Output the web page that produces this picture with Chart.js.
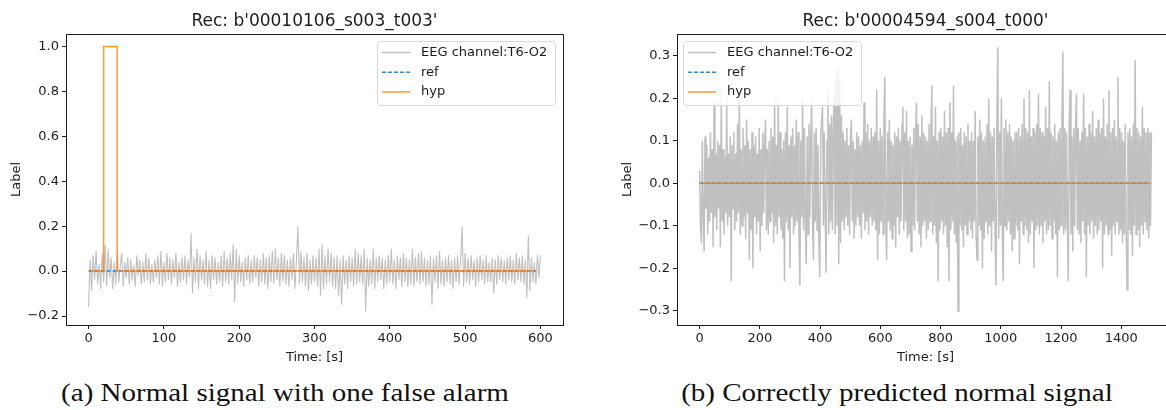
<!DOCTYPE html>
<html>
<head>
<meta charset="utf-8">
<script src="https://cdn.jsdelivr.net/npm/chart.js@4.4.1/dist/chart.umd.min.js"></script>
<style>
  html, body { margin: 0; padding: 0; background: #fff; overflow: hidden; width: 1166px; height: 410px; }
  canvas { position: absolute; top: 0; }
  #chartA { left: 0; }
  #chartB { left: 583px; }
  .cap {
    position: absolute; top: 380px; text-align: center; white-space: nowrap;
    font-family: 'Liberation Serif', serif; font-size: 25px; line-height: 25px; color: #111;
    transform: scaleX(1.16);
  }
</style>
</head>
<body>
<canvas id="chartA" width="583" height="375"></canvas>
<canvas id="chartB" width="600" height="375"></canvas>
<div class="cap" style="left:0; width:570px;">(a) Normal signal with one false alarm</div>
<div class="cap" style="left:597px; width:600px;">(b) Correctly predicted normal signal</div>
<script>
// recording (a): b'00010106_s003_t003', one sample every 2 s
const titleA = "Rec: b'00010106_s003_t003'";
const stepA = 2;
const eegA = [
  -0.16, 0.05, -0.09, 0.07, -0.04, 0.09, -0.06, 0.03, -0.08, 0.08, -0.05, 0.12, -0.07, 0.10, -0.03, 0.06, -0.08, 0.04, -0.06, 0.08,
  -0.05, 0.02, 0.08, -0.07, 0.04, -0.03, 0.06, -0.06, 0.05, -0.04, 0.03, -0.07, 0.07, -0.02, 0.05, -0.06, 0.04, -0.05, 0.08, -0.04,
  0.06, -0.06, 0.03, -0.05, 0.05, -0.03, 0.07, -0.06, 0.09, -0.07, 0.04, -0.05, 0.08, -0.04, 0.06, -0.06, 0.05, -0.03, 0.08, -0.07,
  0.04, -0.05, 0.06, -0.04, 0.07, -0.06, 0.05, -0.03, 0.17, -0.10, 0.06, -0.05, 0.10, -0.08, 0.07, -0.04, 0.05, -0.06, 0.09, -0.07,
  0.05, -0.08, 0.07, -0.04, 0.06, -0.06, 0.04, -0.05, 0.07, -0.07, 0.09, -0.05, 0.06, -0.06, 0.08, -0.04, 0.12, -0.14, 0.10, -0.06,
  0.07, -0.05, 0.04, -0.07, 0.06, -0.04, 0.07, -0.06, 0.05, -0.05, 0.07, -0.03, 0.06, -0.07, 0.05, -0.05, 0.08, -0.06, 0.06, -0.08,
  0.07, -0.05, 0.09, -0.06, 0.10, -0.04, 0.06, -0.07, 0.08, -0.05, 0.07, -0.06, 0.05, -0.07, 0.06, -0.04, 0.08, -0.08, 0.05, 0.20,
  -0.06, 0.09, -0.05, 0.06, -0.07, 0.08, -0.09, 0.05, -0.06, 0.07, -0.05, 0.06, -0.07, 0.10, -0.11, 0.12, -0.08, 0.07, -0.06, 0.10,
  -0.05, 0.08, -0.07, 0.06, -0.08, 0.07, -0.11, 0.05, -0.15, 0.07, -0.06, 0.05, -0.08, 0.07, -0.05, 0.06, -0.07, 0.10, -0.06, 0.08,
  -0.05, 0.07, -0.06, 0.10, -0.18, 0.06, -0.07, 0.05, -0.06, 0.10, -0.08, 0.06, -0.05, 0.07, -0.04, 0.06, -0.08, 0.05, -0.06, 0.07,
  -0.05, 0.10, -0.06, 0.05, -0.08, 0.07, -0.04, 0.06, -0.07, 0.08, -0.05, 0.06, -0.07, 0.05, -0.06, 0.10, -0.07, 0.06, -0.05, 0.08,
  -0.06, 0.09, -0.05, 0.06, -0.07, 0.05, -0.06, 0.07, -0.15, 0.06, -0.05, 0.07, -0.08, 0.09, -0.06, 0.05, -0.07, 0.06, -0.05, 0.07,
  -0.06, 0.05, -0.08, 0.06, -0.05, 0.07, -0.06, 0.05, 0.20, -0.07, 0.08, -0.05, 0.06, -0.06, 0.07, -0.04, 0.05, -0.07, 0.06, -0.05,
  0.07, -0.04, 0.05, -0.06, 0.07, -0.05, 0.04, -0.05, 0.06, -0.10, 0.05, -0.06, 0.07, -0.04, 0.06, -0.05, 0.05, -0.06, 0.06, -0.04,
  0.07, -0.05, 0.05, -0.06, 0.08, -0.04, 0.06, -0.05, 0.07, -0.06, 0.05, -0.12, 0.16, -0.09, 0.06, -0.05, 0.04, -0.06, 0.07, -0.03,
  0.07
];
const refTimesA = [0, 594];
const refA = [0, 0];
const hypTimesA = [0, 20, 20, 38, 38, 594];
const hypA = [0, 0, 1, 1, 0, 0];
const xTicksA = [0, 100, 200, 300, 400, 500, 600];
const yTicksA = [-0.2, 0.0, 0.2, 0.4, 0.6, 0.8, 1.0];

// recording (b): b'00004594_s004_t000', one sample every 3 s
const titleB = "Rec: b'00004594_s004_t000'";
const stepB = 3;
const eegB = [
  0.03, -0.10, -0.14, 0.10, -0.08, -0.16, 0.11, -0.06, 0.09, -0.12, 0.06, -0.09, 0.12, -0.07, 0.08, -0.15, 0.19, -0.08, 0.07, -0.11, 0.10, -0.06, 0.09, -0.15, 0.22,
  -0.09, 0.08, -0.12, 0.06, -0.07, 0.20, -0.10, 0.07, -0.08, 0.11, -0.23, 0.09, -0.06, 0.12, -0.11, 0.07, -0.09, 0.14, -0.07, 0.20, -0.12, 0.08, -0.10, 0.13, -0.08,
  0.09, -0.13, 0.15, -0.07, 0.10, -0.18, 0.08, -0.11, 0.12, -0.20, 0.09, -0.08, 0.11, -0.12, 0.07, -0.09, 0.13, -0.16, 0.08, -0.10, 0.12, -0.07, 0.09, 0.15, -0.11,
  0.08, -0.12, 0.10, -0.09, 0.13, -0.07, 0.11, -0.14, 0.20, -0.10, 0.09, -0.12, 0.19, -0.08, 0.12, -0.11, 0.08, -0.13, 0.10, -0.23, 0.12, -0.09, 0.18, -0.11, 0.09,
  -0.20, 0.11, -0.08, 0.13, -0.12, 0.09, -0.10, 0.15, -0.09, 0.12, -0.13, -0.24, 0.10, -0.08, 0.20, -0.11, 0.13, -0.09, -0.19, 0.11, -0.12, 0.14, -0.08, 0.10, 0.20,
  -0.10, -0.18, 0.12, -0.09, 0.13, -0.11, 0.09, -0.14, -0.22, 0.11, 0.14, 0.18, -0.10, 0.12, -0.08, -0.21, 0.10, 0.22, -0.12, 0.14, -0.09, 0.16, -0.11, 0.13, 0.21,
  -0.12, 0.25, -0.10, 0.27, -0.19, 0.24, -0.14, 0.16, -0.09, 0.12, -0.11, 0.10, -0.08, 0.13, -0.10, 0.09, -0.12, 0.11, 0.15, -0.09, 0.10, -0.13, 0.08, -0.10, 0.12,
  -0.08, 0.11, -0.10, 0.09, -0.13, 0.10, -0.07, 0.19, -0.11, 0.12, -0.09, 0.14, -0.12, 0.10, -0.08, 0.13, -0.10, 0.11, -0.09, 0.12, -0.11, 0.22, -0.18, 0.10, -0.12,
  0.13, -0.09, 0.11, -0.12, 0.16, 0.25, -0.10, -0.18, 0.12, -0.09, 0.15, -0.11, 0.10, -0.13, 0.09, -0.10, 0.12, -0.15, 0.11, -0.08, 0.13, -0.12, 0.10, -0.09, 0.14,
  0.18, -0.11, 0.12, -0.09, 0.17, -0.13, 0.10, -0.12, 0.11, -0.16, 0.09, -0.10, 0.13, -0.11, 0.12, 0.19, -0.09, 0.14, -0.12, 0.11, -0.15, 0.16, -0.10, 0.12, -0.09,
  0.11, -0.13, 0.10, -0.11, 0.14, -0.09, 0.12, 0.23, -0.12, 0.11, -0.10, 0.18, -0.14, 0.10, -0.23, 0.12, -0.11, 0.13, -0.09, 0.11, -0.12, 0.17, -0.10, 0.12, -0.15,
  0.13, -0.23, 0.19, -0.11, 0.12, -0.09, 0.23, -0.12, 0.10, -0.14, 0.11, -0.30, 0.12, -0.10, 0.13, -0.11, 0.09, -0.15, 0.12, -0.10, 0.11, -0.12, 0.14, -0.09, 0.10,
  -0.11, 0.12, -0.13, 0.10, -0.09, 0.17, -0.12, -0.18, 0.11, -0.10, 0.15, -0.11, 0.12, -0.20, 0.10, -0.13, 0.11, -0.09, 0.14, -0.12, 0.20, -0.10, 0.12, -0.16, 0.11,
  -0.09, 0.13, -0.12, -0.24, 0.14, 0.32, -0.13, 0.12, -0.10, 0.20, -0.12, -0.23, 0.13, -0.10, 0.15, -0.11, 0.12, -0.09, 0.14, -0.12, 0.11, -0.16, 0.10, -0.13, 0.12,
  -0.10, 0.12, -0.11, 0.13, -0.19, 0.11, -0.09, 0.14, -0.12, 0.20, -0.10, 0.13, -0.11, 0.12, -0.14, 0.22, -0.12, 0.11, -0.09, 0.13, -0.20, 0.12, -0.11, 0.14, -0.10,
  0.21, -0.12, 0.13, -0.10, 0.12, -0.14, 0.11, -0.09, 0.18, -0.12, 0.13, -0.11, 0.24, -0.10, 0.12, -0.13, 0.11, -0.09, 0.14, -0.12, 0.10, -0.22, 0.12, -0.11, 0.13,
  -0.10, 0.15, 0.31, -0.12, 0.13, -0.11, 0.12, -0.09, -0.23, 0.14, 0.22, -0.12, 0.11, -0.16, 0.13, -0.10, 0.12, 0.21, -0.11, 0.13, -0.12, 0.10, -0.14, 0.12, -0.09,
  0.21, -0.12, 0.13, -0.22, 0.11, -0.10, 0.14, -0.12, 0.12, -0.09, 0.17, -0.13, 0.11, -0.10, 0.13, -0.12, 0.15, -0.11, 0.12, -0.09, 0.13, -0.20, 0.20, -0.12, 0.11,
  -0.10, 0.14, -0.12, 0.22, -0.11, 0.12, -0.17, 0.13, -0.10, 0.15, -0.12, 0.11, -0.09, 0.25, -0.12, 0.13, -0.11, 0.12, -0.14, 0.10, -0.12, 0.14, -0.10, -0.25, 0.12,
  -0.11, 0.13, -0.12, 0.11, -0.17, 0.14, -0.10, 0.29, -0.12, 0.13, -0.11, 0.12, -0.15, 0.11, -0.10, 0.18, -0.12, 0.13, -0.09, 0.12, -0.11, 0.13, -0.13, 0.12, -0.10,
  0.12
];
const refTimesB = [0, 1496];
const refB = [0, 0];
const hypTimesB = [0, 1496];
const hypB = [0, 0];
const xTicksB = [0, 200, 400, 600, 800, 1000, 1200, 1400];
const yTicksB = [-0.3, -0.2, -0.1, 0.0, 0.1, 0.2, 0.3];

const GREY = '#c0c0c0';
const BLUE = 'rgba(31,119,180,0.85)';
const ORANGE = 'rgba(255,127,14,0.8)';
const INK = '#1c1c1c';
const FONT = "'DejaVu Sans', sans-serif";
const TXT = 13;

Chart.defaults.font.family = FONT;
Chart.defaults.color = INK;

const sampled = (vals, step) => vals.map((v, i) => ({ x: i * step, y: v }));
const paired = (xs, ys) => xs.map((x, i) => ({ x, y: ys[i] }));
const fmt = (v) => v.toFixed(1).replace('-', '\u2212');

// matplotlib-style frame, title and in-plot legend
const mplDecor = {
  id: 'mplDecor',
  afterDraw(chart, args, opts) {
    const { ctx, chartArea: a } = chart;
    ctx.save();
    ctx.strokeStyle = INK;
    ctx.lineWidth = 1;
    ctx.beginPath();
    ctx.moveTo(Math.round(a.left) + 0.5, Math.round(a.top) + 0.5);
    ctx.lineTo(Math.round(a.right) + 0.5, Math.round(a.top) + 0.5);
    ctx.lineTo(Math.round(a.right) + 0.5, Math.round(a.bottom) + 0.5);
    ctx.stroke();

    ctx.fillStyle = INK;
    ctx.font = '17px ' + FONT;
    ctx.textAlign = 'center';
    ctx.textBaseline = 'middle';
    ctx.fillText(opts.title, (a.left + a.right) / 2, 22);

    // legend box
    ctx.font = TXT + 'px ' + FONT;
    const items = chart.data.datasets;
    const w = 178, h = 64;
    const x0 = opts.legend === 'right' ? a.right - 8 - w : a.left + 6;
    const y0 = a.top + 7;
    ctx.beginPath();
    ctx.roundRect(x0 + 0.5, y0 + 0.5, w, h, 3);
    ctx.fillStyle = 'rgba(255,255,255,0.8)';
    ctx.fill();
    ctx.strokeStyle = '#d9d9d9';
    ctx.stroke();
    items.forEach((ds, i) => {
      const y = y0 + 11.5 + i * 19.7;
      ctx.beginPath();
      ctx.setLineDash(ds.borderDash || []);
      ctx.strokeStyle = ds.borderColor;
      ctx.lineWidth = 1.5;
      ctx.moveTo(x0 + 5, y);
      ctx.lineTo(x0 + 33, y);
      ctx.stroke();
      ctx.setLineDash([]);
      ctx.fillStyle = INK;
      ctx.textAlign = 'left';
      ctx.fillText(ds.label, x0 + 44, y);
    });
    ctx.restore();
  }
};

function axes(xr, yr, xTicks, yTicks, yWidth, yTitlePad) {
  const tickFont = { family: FONT, size: TXT };
  const grid = { drawOnChartArea: false, drawTicks: true, tickLength: 4, color: INK };
  const border = { display: true, color: INK, width: 1 };
  return {
    x: {
      type: 'linear', min: xr[0], max: xr[1], grid, border,
      afterBuildTicks: (s) => { s.ticks = xTicks.map((v) => ({ value: v })); },
      afterFit: (s) => { s.height = 50; },
      ticks: { font: tickFont, color: INK, padding: 2, autoSkip: false, maxRotation: 0, callback: (v) => String(v) },
      title: { display: true, text: 'Time: [s]', font: { family: FONT, size: TXT }, color: INK, padding: { top: 0, bottom: 10 } }
    },
    y: {
      type: 'linear', min: yr[0], max: yr[1], grid, border,
      afterBuildTicks: (s) => { s.ticks = yTicks.map((v) => ({ value: v })); },
      afterFit: (s) => { s.width = yWidth; },
      ticks: { font: tickFont, color: INK, padding: 3, autoSkip: false, callback: fmt },
      title: { display: true, text: 'Label', font: { family: FONT, size: TXT }, color: INK, padding: { top: yTitlePad, bottom: 0 } }
    }
  };
}

function datasets(eeg, ref, hyp, greyWidth) {
  return [
    { label: 'EEG channel:T6-O2', data: eeg, borderColor: GREY, borderWidth: greyWidth, pointRadius: 0, order: 3 },
    { label: 'ref', data: ref, borderColor: BLUE, borderWidth: 1.5, borderDash: [4, 2], pointRadius: 0, order: 2 },
    { label: 'hyp', data: hyp, borderColor: ORANGE, borderWidth: 1.5, pointRadius: 0, order: 1 }
  ];
}

const common = {
  responsive: false,
  animation: false,
  events: [],
  plugins: { legend: { display: false }, tooltip: { enabled: false } }
};

new Chart(document.getElementById('chartA'), {
  type: 'line',
  data: { datasets: datasets(sampled(eegA, stepA), paired(refTimesA, refA), paired(hypTimesA, hypA), 1.1) },
  options: {
    ...common,
    layout: { padding: { top: 34, right: 20, left: 0, bottom: 0 } },
    scales: axes([-30, 630], [-0.24, 1.056], xTicksA, yTicksA, 66, 9),
    plugins: { ...common.plugins, mplDecor: { title: titleA, legend: 'right' } }
  },
  plugins: [mplDecor]
});

new Chart(document.getElementById('chartB'), {
  type: 'line',
  data: { datasets: datasets(sampled(eegB, stepB), paired(refTimesB, refB), paired(hypTimesB, hypB), 1.5) },
  options: {
    ...common,
    layout: { padding: { top: 34, right: 9, left: 0, bottom: 0 } },
    scales: axes([-75, 1575], [-0.333, 0.351], xTicksB, yTicksB, 94, 37),
    plugins: { ...common.plugins, mplDecor: { title: titleB, legend: 'left' } }
  },
  plugins: [mplDecor]
});
</script>
</body>
</html>
